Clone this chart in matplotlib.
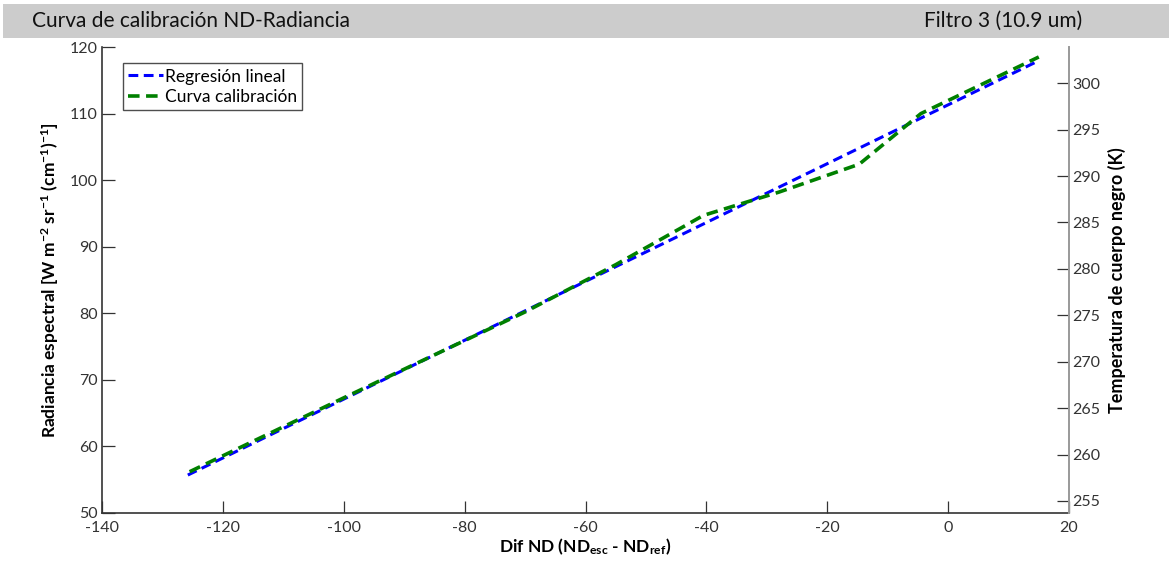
import matplotlib
matplotlib.use("Agg")
import matplotlib.pyplot as plt
from matplotlib.patches import Rectangle

plt.rcParams['font.family'] = ['Lato', 'DejaVu Sans']
plt.rcParams['axes.unicode_minus'] = False
plt.rcParams['mathtext.fontset'] = 'custom'
plt.rcParams['mathtext.rm'] = 'Lato:bold'
plt.rcParams['mathtext.it'] = 'Lato:bold'
plt.rcParams['mathtext.bf'] = 'Lato:bold'

# Data
reg_x = [-125.8, 14.9]
reg_y = [55.7, 117.9]
cal_x = [-125.5, -100, -70, -55, -40.5, -28, -14.7, -4.5, 15.0]
cal_y = [56.2, 67.3, 80.2, 87.3, 94.7, 98.2, 102.4, 110.0, 118.5]

xticks = [-140, -120, -100, -80, -60, -40, -20, 0, 20]
yticks = [50, 60, 70, 80, 90, 100, 110, 120]
tticks = [255, 260, 265, 270, 275, 280, 285, 290, 295, 300]

fig = plt.figure(figsize=(11.69, 5.68), dpi=100)

# title band
fig.patches.append(Rectangle((3/1169, 1 - 38/568), 1, 34/568, transform=fig.transFigure,
                             facecolor='#cccccc', edgecolor='none', zorder=0))
fig.text(32/1169, 1 - 21/568, 'Curva de calibración ND-Radiancia', fontsize=15,
         color='#111111', va='center', ha='left')
fig.text(1082/1169, 1 - 21/568, 'Filtro 3 (10.9 um)', fontsize=15,
         color='#111111', va='center', ha='right')

ax = fig.add_axes([102/1169, 1 - 513/568, 967/1169, 466/568])
ax.plot(reg_x, reg_y, color='#0000ff', lw=2.2, ls=(0, (3.2, 1.8)), label='Regresión lineal')
ax.plot(cal_x, cal_y, color='#008000', lw=2.6, ls=(0, (3.2, 1.8)), label='Curva calibración')

ax.set_xlim(-140, 20)
ax.set_ylim(50, 120)
ax.set_xticks(xticks)
ax.set_yticks(yticks)
ax.tick_params(direction='in', length=9, width=0.9, colors='#333333', labelsize=11.5,
               top=False, right=False)
ax.tick_params(axis='x', pad=6)
ax.tick_params(axis='y', pad=3)
for s in ['top', 'right']:
    ax.spines[s].set_visible(False)
for s in ['left', 'bottom']:
    ax.spines[s].set_color('#333333')
    ax.spines[s].set_linewidth(1.2)

ax.set_xlabel(r'Dif ND (ND$_{\mathrm{esc}}$ - ND$_{\mathrm{ref}}$)', fontsize=12.5,
              fontweight='bold', labelpad=1)
ax.set_ylabel(r'Radiancia espectral [W m$^{-2}$ sr$^{-1}$ (cm$^{-1}$)$^{-1}$]', fontsize=12.5,
              fontweight='bold', labelpad=6)

leg = ax.legend(loc='upper left', bbox_to_anchor=(0.022, 0.965), fontsize=12.5,
                frameon=True, fancybox=False, handlelength=2.0, handletextpad=0.1,
                borderpad=0.3, labelspacing=0.25, borderaxespad=0)
leg.get_frame().set_edgecolor('#222222')
leg.get_frame().set_linewidth(1.0)

ax2 = ax.twinx()
ax2.set_ylim(253.7, 303.9)
ax2.set_yticks(tticks)
ax2.tick_params(direction='in', length=9, width=0.9, colors='#333333', labelsize=11.5, pad=2)
for s in ['top', 'left', 'bottom']:
    ax2.spines[s].set_visible(False)
ax2.spines['right'].set_color('#999999')
ax2.spines['right'].set_linewidth(1.4)
ax2.set_ylabel('Temperatura de cuerpo negro (K)', fontsize=13, fontweight='bold', labelpad=6)

fig.savefig('out.png', dpi=100)
